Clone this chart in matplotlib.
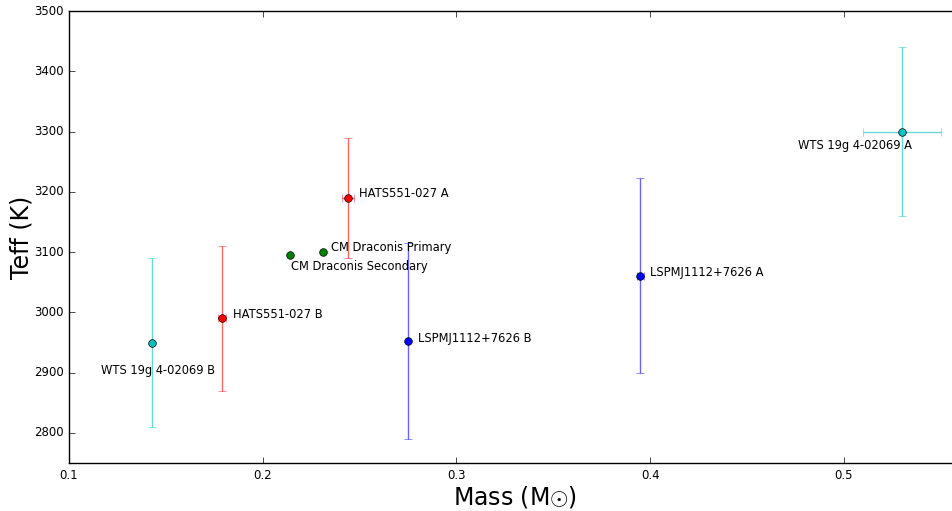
import matplotlib
matplotlib.use('Agg')
import matplotlib.pyplot as plt

# eclipsing binary components: mass (solar masses) and effective temperature (K)
nomes = ['WTS 19g 4-02069 A', 'WTS 19g 4-02069 B',
         'HATS551-027 A', 'HATS551-027 B',
         'LSPMJ1112+7626 A', 'LSPMJ1112+7626 B',
         'CM Draconis Primary', 'CM Draconis Secondary']
massa = [0.53, 0.143, 0.244, 0.179, 0.395, 0.275, 0.231, 0.214]
erro_massa = [0.02, 0.0, 0.003, 0.002, 0.002, 0.0, 0.0, 0.0]
teff = [3300, 2950, 3190, 2990, 3061, 2952, 3100, 3095]
erro_teff = [140, 140, 100, 120, 162, 163, 0, 0]
cores = ['c', 'c', 'r', 'r', 'b', 'b', 'g', 'g']
# label offsets in points and horizontal alignment
desloc = [(7, -10), (4, -20), (8, 3), (8, 3), (7, 2), (7, 2), (6, 3), (1, -8)]
alinh = ['right', 'center', 'left', 'left', 'left', 'left', 'left', 'left']


def principal():
    plt.style.use('classic')
    fig = plt.figure(figsize=(9.52, 5.11), dpi=100, facecolor='white')
    ax = fig.add_axes([0.0725, 0.094, 0.936, 0.884])

    for i in range(len(nomes)):
        xerr = erro_massa[i] if erro_massa[i] > 0 else None
        yerr = erro_teff[i] if erro_teff[i] > 0 else None
        cont = ax.errorbar(massa[i], teff[i], xerr=xerr, yerr=yerr, fmt='o',
                           color=cores[i], ecolor=cores[i], markersize=5.5,
                           markeredgewidth=0.5, elinewidth=1, capsize=3)
        # lighter error bars, solid markers
        for linha in cont[1]:
            linha.set_alpha(0.6)
        for barra in cont[2]:
            barra.set_alpha(0.6)
        ax.annotate(nomes[i], (massa[i], teff[i]), xytext=desloc[i],
                    textcoords='offset points', ha=alinh[i], va='center',
                    fontsize=8.3)

    ax.set_xlim(0.1, 0.56)
    ax.set_ylim(2750, 3500)
    ax.set_xticks([0.1, 0.2, 0.3, 0.4, 0.5])
    ax.tick_params(labelsize=8.5)
    ax.set_xlabel(r'Mass (M$\odot$)', fontsize=17, labelpad=2)
    ax.set_ylabel('Teff (K)', fontsize=17, labelpad=0)

    fig.savefig('out.png', dpi=100, facecolor='white')


if __name__ == '__main__':
    principal()
